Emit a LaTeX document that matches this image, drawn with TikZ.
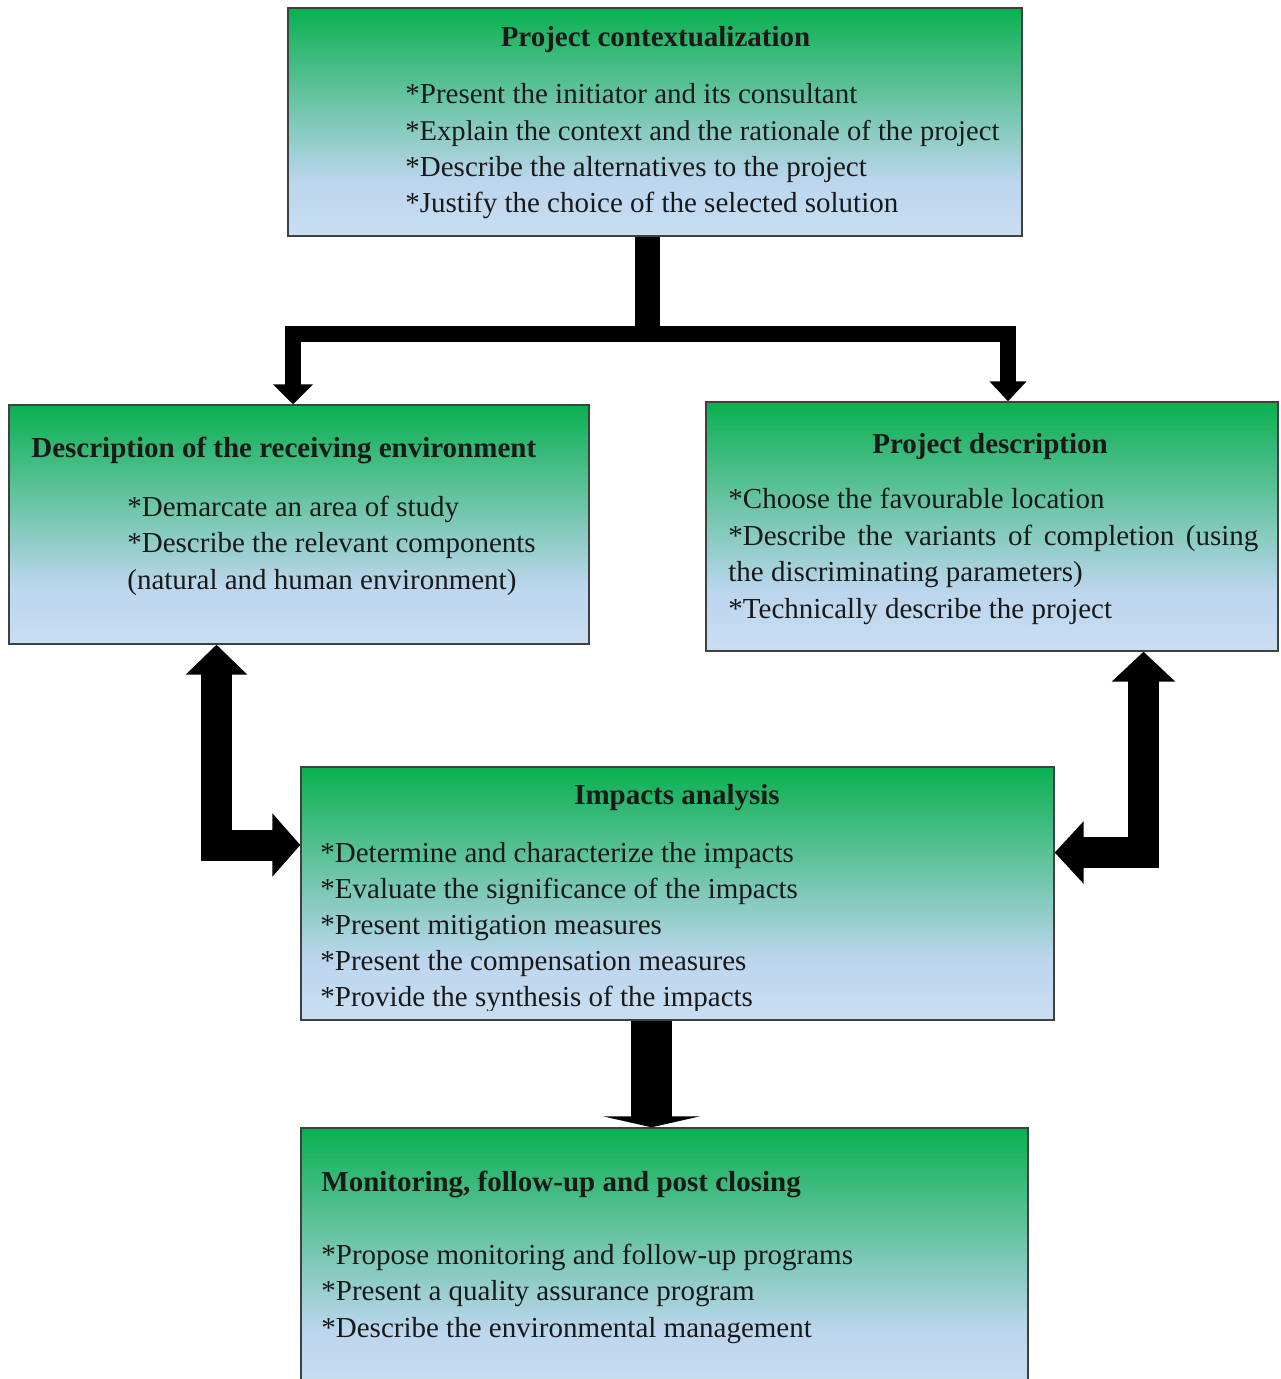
\documentclass[tikz,border=0pt]{standalone}
\usepackage{fontspec}
\setmainfont{Liberation Serif}
\usetikzlibrary{arrows.meta,calc}
\definecolor{bxg}{RGB}{10,176,80}
\definecolor{bxb}{RGB}{188,214,238}
\definecolor{bxl}{RGB}{200,222,242}
\pgfdeclareverticalshading{boxgrad}{100bp}{color(0bp)=(bxl); color(25bp)=(bxl); color(37bp)=(bxb); color(75bp)=(bxg); color(100bp)=(bxg)}
\begin{document}
\begin{tikzpicture}[x=0.5pt,y=-0.5pt,
  box/.style={draw=black!75, line width=0.7pt, shading=boxgrad, rectangle, inner sep=0pt},
  txt/.style={font=\fontsize{14.5pt}{18pt}\selectfont, inner sep=0pt, anchor=base west, text=black!90},
  ttl/.style={txt, font=\fontsize{14.5pt}{18pt}\selectfont\bfseries},
  blk/.style={draw=black, fill=black, line cap=butt, line join=miter}
]
\useasboundingbox (0,0) rectangle (1280,1379);
\fill[white] (0,0) rectangle (1280,1379);

% boxes
\node[box, minimum width=367pt, minimum height=114pt] (ctx) at (655,122) {};
\node[box, minimum width=290pt, minimum height=119.5pt] (env) at (299,524.5) {};
\node[box, minimum width=286pt, minimum height=124.5pt] (pd) at (992,526.5) {};
\node[box, minimum width=376.5pt, minimum height=126.5pt] (imp) at (677.5,893.5) {};
\node[box, minimum width=363.5pt, minimum height=133.5pt] (mon) at (664.5,1261.5) {};

% top box text
\node[ttl, anchor=base] (ctxT) at (655.5,47) {Project contextualization};
\node[txt] (ctx1) at (405,104) {*Present the initiator and its consultant};
\node[txt] (ctx2) at (405,141) {\fontsize{14.3pt}{18pt}\selectfont *Explain the context and the rationale of the project};
\node[txt] (ctx3) at (405,177) {*Describe the alternatives to the project};
\node[txt] (ctx4) at (405,213) {*Justify the choice of the selected solution};

% left box text
\node[ttl] (envT) at (31,458) {Description of the receiving environment};
\node[txt] (env1) at (127,516) {*Demarcate an area of study};
\node[txt] (env2) at (127,552) {*Describe the relevant components};
\node[txt] (env3) at (127,589) {(natural and human environment)};

% right box text
\node[ttl, anchor=base] (pdT) at (990,453) {Project description};
\node[txt] (pd1) at (728,508) {*Choose the favourable location};
\node[txt] (pd2) at (728,545) {\makebox[265pt][s]{*Describe the variants of completion (using}};
\node[txt] (pd3) at (728,581) {the discriminating parameters)};
\node[txt] (pd4) at (728,618) {*Technically describe the project};

% impacts text
\node[ttl, anchor=base] (impT) at (677,804) {Impacts analysis};
\begin{scope}
\clip (imp.north west) rectangle ($(imp.south east)+(0,-10)$);
\node[txt] (imp1) at (320,862) {*Determine and characterize the impacts};
\node[txt] (imp2) at (320,898) {*Evaluate the significance of the impacts};
\node[txt] (imp3) at (320,934) {*Present mitigation measures};
\node[txt] (imp4) at (320,970) {*Present the compensation measures};
\node[txt] (imp5) at (320,1006) {*Provide the synthesis of the impacts};
\end{scope}

% monitoring text
\node[ttl] (monT) at (321,1191) {Monitoring, follow-up and post closing};
\node[txt] (mon1) at (321,1264) {*Propose monitoring and follow-up programs};
\node[txt] (mon2) at (321,1300) {*Present a quality assurance program};
\node[txt] (mon3) at (321,1337) {*Describe the environmental management};

% connectors
\coordinate (split) at (647.5,334);
\draw[blk, line width=12.5pt] (ctx.south -| split) -- ($(split)+(0,-7)$);
\draw[blk, fill=none, line width=8pt, {Triangle[width=19.5pt,length=10pt]}-{Triangle[width=18pt,length=10pt]}]
  (env.north -| 293,0) |- (split) -| (pd.north -| 1008,0);

\draw[blk, fill=none, line width=15.5pt, {Triangle[width=30pt,length=15pt]}-{Triangle[width=31pt,length=14pt]}]
  (env.south -| 216.5,0) |- (imp.west |- 0,845);

\draw[blk, fill=none, line width=15.5pt, {Triangle[width=31pt,length=15pt]}-{Triangle[width=30.5pt,length=14.5pt]}]
  (pd.south -| 1143.5,0) |- (imp.east |- 0,852.5);

\draw[blk, fill=none, line width=20.5pt, -{Triangle[width=48.5pt,length=5.5pt]}]
  (imp.south -| 651.5,0) -- (mon.north -| 651.5,0);
\end{tikzpicture}
\end{document}
